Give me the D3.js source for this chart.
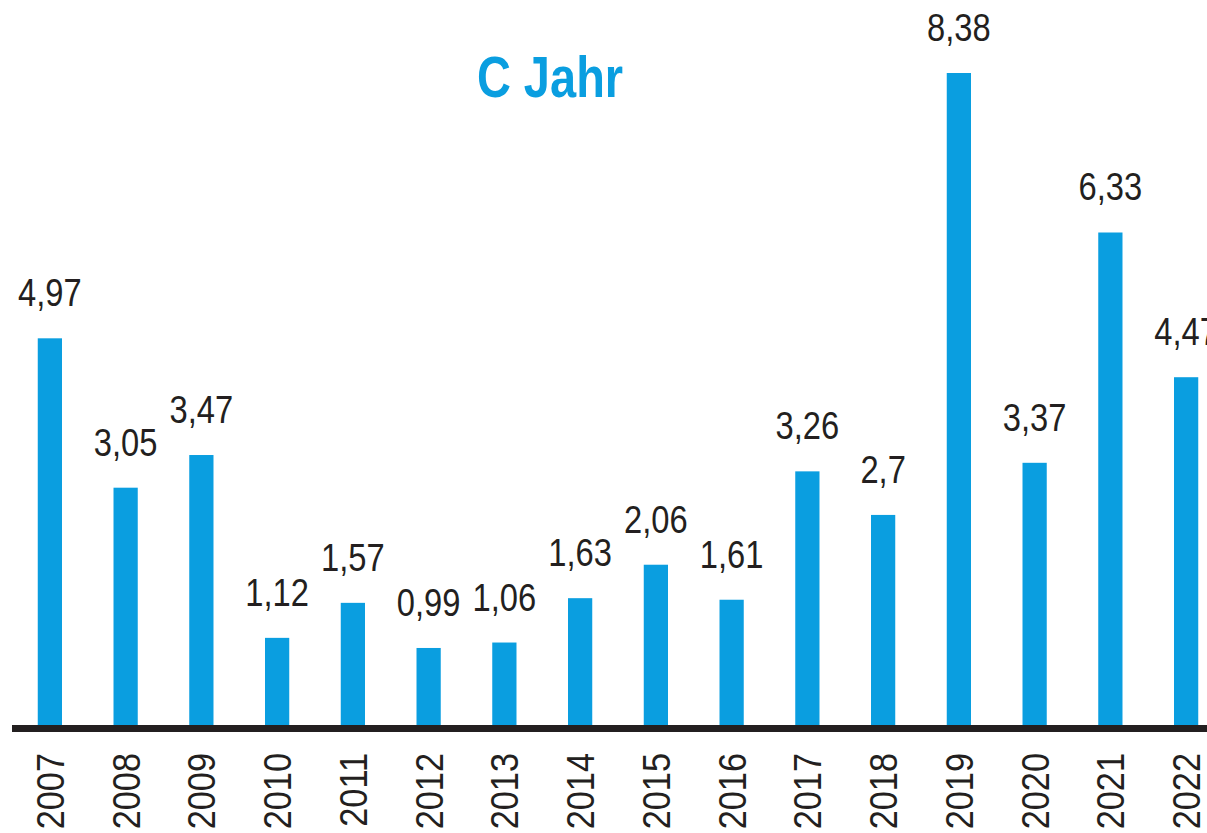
<!DOCTYPE html>
<html>
<head>
<meta charset="utf-8">
<script src="https://cdn.jsdelivr.net/npm/d3@7"></script>
<style>
  html, body { margin: 0; padding: 0; background: #fff; }
  svg { display: block; }
  text { font-family: "Liberation Sans", Arial, sans-serif; }
</style>
</head>
<body>
<svg id="chart"></svg>
<script>
const years = ["2007", "2008", "2009", "2010", "2011", "2012", "2013", "2014",
  "2015", "2016", "2017", "2018", "2019", "2020", "2021", "2022"];
const values = [4.97, 3.05, 3.47, 1.12, 1.57, 0.99, 1.06, 1.63,
  2.06, 1.61, 3.26, 2.7, 8.38, 3.37, 6.33, 4.47];
const title = "C Jahr";

const width = 1207;
const height = 833;
const blue = "#0a9ee0";
const ink = "#231f20";

const baseY = 725;

const svg = d3.select("#chart")
  .attr("width", width)
  .attr("height", height);

// bar centres run from ~50 to ~1186
const x = d3.scaleBand()
  .domain(years)
  .range([12, 1224])
  .paddingInner(0.68)
  .paddingOuter(0.34);

const y = d3.scaleLinear()
  .domain([0, 8.38])
  .range([baseY, 73]);

const fmt = v => String(v).replace(".", ",");

// no narrow font installed, so squeeze the glyphs horizontally
function squash(sel, k) {
  sel.each(function() {
    const w = this.getComputedTextLength();
    d3.select(this)
      .attr("textLength", w * k)
      .attr("lengthAdjust", "spacingAndGlyphs");
  });
}

svg.append("text")
  .attr("x", 550)
  .attr("y", 97)
  .attr("text-anchor", "middle")
  .style("font-size", "58px")
  .style("font-weight", "bold")
  .style("fill", blue)
  .text(title)
  .call(squash, 0.81);

svg.selectAll("rect.bar")
  .data(values)
  .enter().append("rect")
  .attr("class", "bar")
  .attr("x", (d, i) => x(years[i]))
  .attr("width", x.bandwidth())
  .attr("y", d => y(d))
  .attr("height", d => baseY - y(d))
  .style("fill", blue);

svg.selectAll("text.val")
  .data(values)
  .enter().append("text")
  .attr("class", "val")
  .attr("x", (d, i) => x(years[i]) + x.bandwidth() / 2)
  .attr("y", d => y(d) - 32)
  .attr("text-anchor", "middle")
  .style("font-size", "38px")
  .style("fill", ink)
  .text(fmt)
  .call(squash, 0.86);

// baseline
svg.append("line")
  .attr("x1", 12)
  .attr("x2", width)
  .attr("y1", baseY + 3.5)
  .attr("y2", baseY + 3.5)
  .style("stroke", ink)
  .style("stroke-width", 7);

svg.selectAll("text.year")
  .data(years)
  .enter().append("text")
  .attr("class", "year")
  .attr("transform", d => `translate(${x(d) + x.bandwidth() / 2},753) rotate(-90)`)
  .attr("dy", "0.36em")
  .attr("text-anchor", "end")
  .style("font-size", "39px")
  .style("fill", ink)
  .text(d => d)
  .call(squash, 0.88);
</script>
</body>
</html>
